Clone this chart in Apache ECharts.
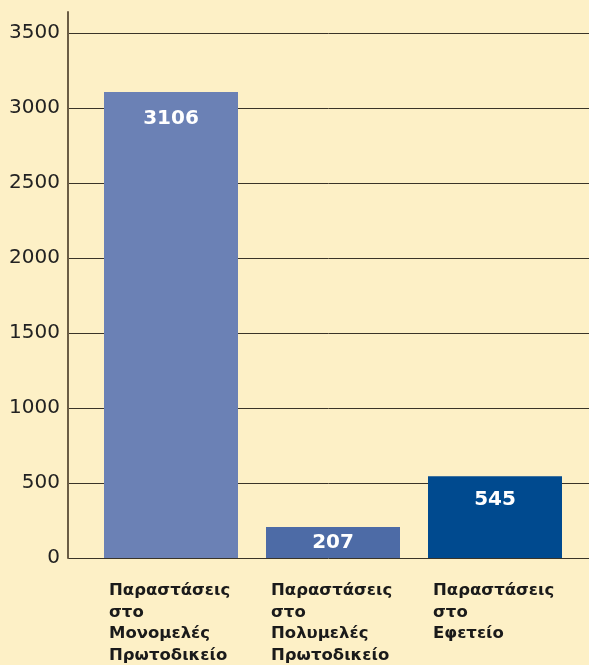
<!DOCTYPE html>
<html>
<head>
<meta charset="utf-8">
<script src="https://cdn.jsdelivr.net/npm/echarts@6/dist/echarts.min.js"></script>
<style>
  html, body { margin: 0; padding: 0; background: #fdf0c6; }
  #chart { width: 589px; height: 665px; }
</style>
</head>
<body>
<div id="chart"></div>
<script>
// Court appearances by court type
const categories = [
  ['Παραστάσεις', 'στο', 'Μονομελές', 'Πρωτοδικείο'],
  ['Παραστάσεις', 'στο', 'Πολυμελές', 'Πρωτοδικείο'],
  ['Παραστάσεις', 'στο', 'Εφετείο']
];
const values = [3106, 207, 545];
const barColors = ['#6b81b5', '#4d6ba6', '#004a8f'];
// short bars get their value label closer to the top edge
const labelDistances = [17, 6, 14];
const yTicks = [0, 500, 1000, 1500, 2000, 2500, 3000, 3500];

const FONT = '"DejaVu Sans", sans-serif';
const chart = echarts.init(document.getElementById('chart'));

chart.setOption({
  backgroundColor: '#fdf0c6',
  animation: false,
  grid: [
    // axis line (runs a little above the top gridline)
    { left: 68, right: 0, top: 12, bottom: 107 },
    // gridlines and tick labels
    { left: 68, right: 0, top: 33, bottom: 107 },
    // bars
    { left: 90, width: 486, top: 33, bottom: 107 }
  ],
  xAxis: [
    { gridIndex: 0, type: 'value', show: false },
    { gridIndex: 1, type: 'value', show: false },
    {
      gridIndex: 2,
      type: 'category',
      data: categories.map(c => c.join('\n')),
      axisLine: { show: false },
      axisTick: { show: false },
      axisLabel: {
        margin: 22,
        interval: 0,
        formatter: v => v.split('\n').map(s => '{a|' + s + '}').join('\n'),
        rich: {
          a: {
            width: 124,
            align: 'left',
            fontFamily: FONT,
            fontWeight: 'bold',
            fontSize: 16.5,
            lineHeight: 21.5,
            color: '#1a1a1a'
          }
        }
      }
    }
  ],
  yAxis: [
    {
      gridIndex: 0,
      type: 'value',
      min: 0,
      max: 3640,
      axisLine: { show: true, lineStyle: { color: '#6b5d45', width: 2 } },
      axisTick: { show: false },
      axisLabel: { show: false },
      splitLine: { show: false }
    },
    {
      gridIndex: 1,
      type: 'value',
      min: 0,
      max: 3500,
      interval: 500,
      axisLine: { show: false },
      axisTick: { show: false },
      axisLabel: {
        margin: 8,
        fontFamily: FONT,
        fontSize: 20,
        color: '#222',
        customValues: yTicks,
        formatter: v => String(v)
      },
      splitLine: { show: true, lineStyle: { color: '#3a3428', width: 1 } }
    },
    {
      gridIndex: 2,
      type: 'value',
      min: 0,
      max: 3500,
      show: false
    }
  ],
  series: [{
    type: 'bar',
    xAxisIndex: 2,
    yAxisIndex: 2,
    barWidth: 134,
    data: values.map((v, i) => ({
      value: v,
      itemStyle: { color: barColors[i] },
      label: { distance: labelDistances[i] }
    })),
    label: {
      show: true,
      position: 'insideTop',
      fontFamily: FONT,
      fontWeight: 'bold',
      fontSize: 20,
      color: '#ffffff'
    }
  }]
});
</script>
</body>
</html>
